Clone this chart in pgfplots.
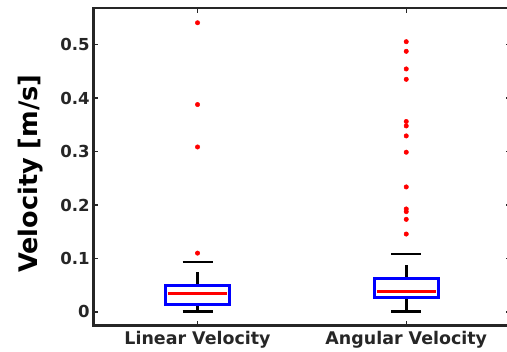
\documentclass[border=0pt]{standalone}
\usepackage{pgfplots}
\pgfplotsset{compat=1.18}
\usepackage{fontspec}
\setmainfont{DejaVu Sans}
\definecolor{axgray}{HTML}{262626}
\begin{document}
\begin{tikzpicture}
\begin{axis}[
  scale only axis,
  width=416.6pt, height=317pt,
  xmin=0.5, xmax=2.5,
  ymin=-0.0257, ymax=0.5686,
  xtick={1,2},
  xticklabels={Linear Velocity, Angular Velocity},
  ytick={0,0.1,0.2,0.3,0.4,0.5},
  yticklabels={0,0.1,0.2,0.3,0.4,0.5},
  tick align=inside,
  major tick length=5pt,
  tick style={axgray, line width=1.3pt},
  axis line style={axgray, line width=2.8pt},
  xticklabel style={font=\fontsize{17.4}{20}\selectfont\bfseries, text=axgray, yshift=-2pt},
  yticklabel style={font=\fontsize{16.5}{19}\selectfont\bfseries, text=axgray},
  ylabel={Velocity [m/s]},
  ylabel style={font=\fontsize{25.5}{28}\selectfont\bfseries, text=black, at={([xshift=-62.5pt,yshift=-7pt]axis description cs:0,0.5)}, anchor=center},
  clip=false,
]
\coordinate (sw) at (rel axis cs:0,0);
\coordinate (ne) at (rel axis cs:1,1);
% whiskers (dashed)
\addplot[black, line width=2.6pt, dash pattern=on 13pt off 11pt] coordinates {(1,0.0500) (1,0.0937)};
\addplot[black, line width=2.6pt] coordinates {(1,0.0144) (1,0.0006)};
\addplot[black, line width=2.6pt, dash pattern=on 13pt off 11pt] coordinates {(2,0.0628) (2,0.1080)};
\addplot[black, line width=2.6pt] coordinates {(2,0.0272) (2,0.0004)};
% caps
\addplot[black, line width=2.6pt] coordinates {(0.928,0.0937) (1.072,0.0937)};
\addplot[black, line width=2.6pt] coordinates {(0.928,0.0006) (1.072,0.0006)};
\addplot[black, line width=2.6pt] coordinates {(1.9275,0.1080) (2.0725,0.1080)};
\addplot[black, line width=2.6pt] coordinates {(1.9275,0.0004) (2.0725,0.0004)};
% boxes
\addplot[blue, line width=2.8pt, fill=white] coordinates {(0.848,0.0144) (1.152,0.0144) (1.152,0.0500) (0.848,0.0500)} -- cycle;
\addplot[blue, line width=2.8pt, fill=white] coordinates {(1.847,0.0272) (2.153,0.0272) (2.153,0.0628) (1.847,0.0628)} -- cycle;
% medians
\addplot[red, line width=3pt] coordinates {(0.86,0.0343) (1.14,0.0343)};
\addplot[red, line width=3pt] coordinates {(1.859,0.0381) (2.141,0.0381)};
% outliers
\addplot[only marks, mark=*, mark size=2.2pt, red, mark options={line width=0.5pt, draw=red, fill=red}] coordinates {
 (1,0.541) (1,0.388) (1,0.3086) (1,0.110)
};
\addplot[only marks, mark=*, mark size=2.2pt, red, mark options={line width=0.5pt, draw=red, fill=red}] coordinates {
 (2,0.5056) (2,0.4876) (2,0.4546) (2,0.4352) (2,0.3563) (2,0.3480) (2,0.3293)
 (2,0.2988) (2,0.2338) (2,0.1926) (2,0.1876) (2,0.1732) (2,0.1457)
};
\end{axis}
\pgfresetboundingbox
\path[use as bounding box] ([xshift=-93pt,yshift=-26pt]sw) rectangle ([xshift=-3.6pt,yshift=8pt]ne);
\end{tikzpicture}
\end{document}
